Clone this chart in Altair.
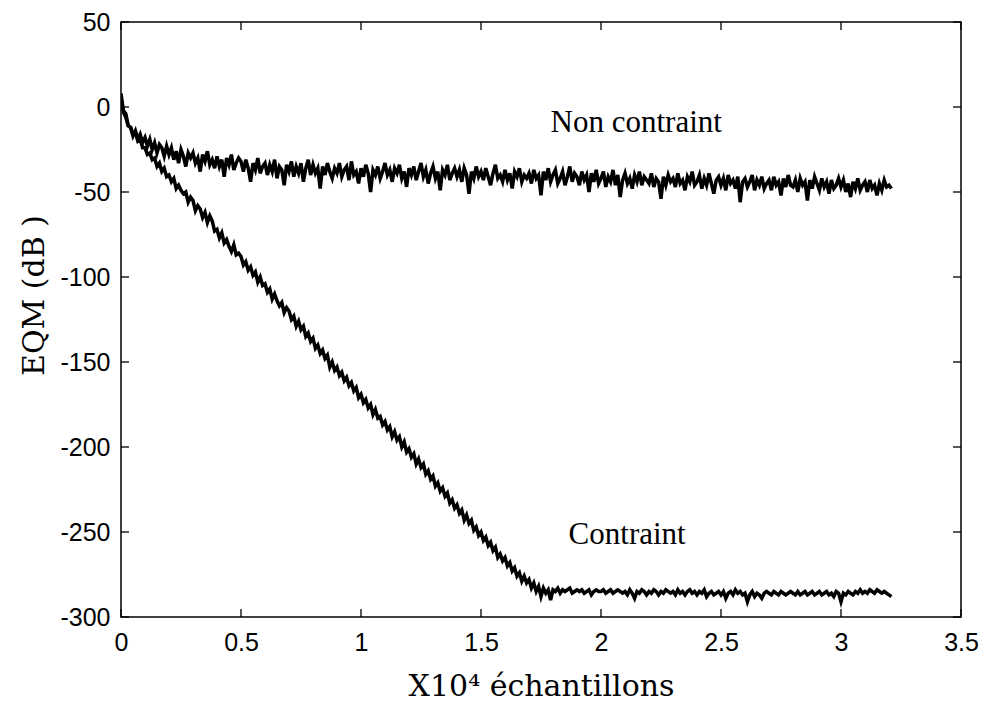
import altair as alt
import pandas as pd

# Horizontal axis: samples in units of 10^4, one reading every 0.01
X_STEP = 0.01
X_TICKS = [0, 0.5, 1, 1.5, 2, 2.5, 3, 3.5]
Y_TICKS = [-300, -250, -200, -150, -100, -50, 0, 50]

NON_CONTRAINT = [
    8, -2, -4, -11, -12, -17, -14, -19, -16, -21,
    -18, -23, -19, -25, -21, -27, -22, -24, -29, -23,
    -28, -24, -31, -26, -33, -25, -29, -35, -27, -30,
    -27, -33, -30, -38, -28, -32, -26, -34, -31, -36,
    -29, -35, -31, -41, -30, -34, -28, -37, -33, -30,
    -32, -38, -31, -36, -44, -33, -37, -30, -39, -35,
    -33, -40, -34, -38, -31, -42, -35, -37, -46, -34,
    -38, -32, -41, -35, -39, -33, -44, -36, -31, -40,
    -34, -39, -36, -48, -35, -40, -33, -38, -42, -36,
    -39, -33, -41, -37, -35, -43, -32, -40, -38, -45,
    -36, -41, -34, -39, -50, -37, -40, -35, -42, -38,
    -33, -40, -37, -44, -36, -39, -34, -42, -38, -47,
    -36, -40, -35, -43, -38, -33, -41, -37, -45, -39,
    -35, -42, -38, -49, -37, -40, -34, -43, -39, -36,
    -41, -37, -44, -36, -40, -51, -38, -42, -35, -41,
    -38, -43, -36, -41, -46, -39, -34, -42, -40, -44,
    -37, -43, -39, -48, -38, -41, -36, -44, -40, -42,
    -39, -45, -37, -42, -40, -52, -38, -43, -36, -44,
    -40, -37, -45, -42, -38, -46, -41, -35, -44, -39,
    -41, -46, -38, -43, -40, -50, -39, -44, -37, -45,
    -42, -38, -47, -41, -44, -37, -46, -40, -53, -43,
    -39, -45, -42, -48, -40, -44, -38, -46, -41, -43,
    -45, -39, -47, -42, -44, -54, -41, -46, -40, -44,
    -42, -47, -39, -45, -43, -49, -41, -44, -38, -46,
    -44, -40, -48, -42, -46, -39, -45, -51, -43, -41,
    -46, -42, -49, -40, -45, -43, -48, -41, -56, -44,
    -42, -47, -44, -40, -49, -43, -46, -41, -48, -45,
    -43, -49, -41, -46, -44, -52, -42, -47, -40, -46,
    -47, -43, -50, -42, -46, -44, -55, -43, -48, -41,
    -45, -49, -42, -47, -44, -51, -43, -48, -46, -42,
    -47, -43, -50, -45, -53, -44, -48, -42, -49, -46,
    -44, -50, -43, -48, -46, -52, -45, -49, -43, -47,
    -46, -48,
]

CONTRAINT = [
    5, -3, -6, -11, -12, -16, -15, -20, -19, -24,
    -24, -28, -27, -31, -30, -35, -33, -38, -36, -41,
    -40, -44, -42, -48, -46, -49, -51, -50, -56, -53,
    -55, -61, -58, -60, -65, -62, -68, -64, -67, -73,
    -72, -77, -74, -80, -78, -82, -85, -81, -87, -86,
    -88, -93, -91, -96, -94, -99, -97, -103, -100, -105,
    -104, -109, -107, -113, -110, -114, -117, -115, -121, -118,
    -120, -125, -123, -129, -126, -131, -129, -135, -133, -138,
    -136, -142, -140, -145, -143, -148, -146, -153, -150, -155,
    -153, -158, -156, -161, -159, -164, -162, -167, -165, -171,
    -169, -174, -172, -177, -175, -181, -178, -183, -182, -187,
    -185, -190, -188, -194, -191, -196, -194, -200, -197, -203,
    -201, -206, -204, -210, -207, -212, -210, -216, -214, -219,
    -217, -223, -221, -226, -224, -229, -227, -233, -231, -236,
    -234, -239, -237, -243, -240, -245, -243, -249, -247, -252,
    -250, -255, -253, -258, -256, -261, -259, -265, -263, -267,
    -265, -270, -268, -273, -271, -276, -274, -279, -276, -280,
    -278, -283, -280, -285, -282, -288, -283, -286, -284, -290,
    -284, -285, -283, -286, -284, -285, -284, -283, -286, -285,
    -284, -285, -284, -286, -285, -284, -287, -285, -284, -285,
    -285, -284, -286, -285, -284, -286, -285, -284, -285, -286,
    -285, -287, -284, -286, -289, -285, -286, -284, -285, -287,
    -285, -286, -284, -285, -287, -285, -286, -284, -285, -286,
    -285, -287, -284, -286, -285, -287, -285, -284, -286, -285,
    -287, -285, -286, -284, -288, -286, -285, -287, -286, -285,
    -287, -285, -289, -286, -285, -287, -284, -286, -285, -287,
    -286, -291, -287, -285, -288, -286, -287, -289, -286, -285,
    -286, -287, -285, -286, -287, -285, -286, -287, -286, -285,
    -286, -287, -285, -287, -286, -285, -287, -286, -285, -287,
    -286, -285, -287, -286, -285, -287, -286, -288, -285, -286,
    -291, -286, -287, -285, -286, -287, -285, -286, -284, -286,
    -285, -286, -284, -285, -286, -284, -285, -286, -285, -286,
    -287, -288,
]

LABELS = ["Non contraint", "Contraint"]
LABEL_X = [1.79, 1.865]
LABEL_Y = [-14.7, -257]

rows = []
for name, series in (("Non contraint", NON_CONTRAINT), ("Contraint", CONTRAINT)):
    for i, v in enumerate(series):
        rows.append({"x": round(i * X_STEP, 2), "y": v, "serie": name})
df = pd.DataFrame(rows)

x_scale = alt.Scale(domain=[0, 3.5], nice=False, zero=False)
y_scale = alt.Scale(domain=[-300, 50], nice=False, zero=False)

X_TITLE = "X10⁴ échantillons"
Y_TITLE = "EQM (dB )"

x_axis = alt.Axis(
    values=X_TICKS, labelExpr="'' + datum.value", grid=False, domain=False,
    tickSize=0, labelPadding=13, labelFont="Liberation Sans", labelFontSize=25,
    labelColor="black", labelFlush=False, labelOverlap=False,
    title=X_TITLE, titleFont="DejaVu Serif",
    titleFontSize=30, titleFontWeight="normal", titleColor="black",
    titleBaseline="alphabetic", titleY=78,
)
y_axis = alt.Axis(
    values=Y_TICKS, labelExpr="'' + datum.value", grid=False, domain=False,
    tickSize=0, labelPadding=11, labelFont="Liberation Sans", labelFontSize=25,
    labelColor="black", labelFlush=False, labelOverlap=False,
    title=Y_TITLE, titleFont="DejaVu Serif",
    titleFontSize=30, titleFontWeight="normal", titleColor="black",
    titleBaseline="alphabetic", titleX=-78, titleY=273, titleAngle=270,
)

lines = alt.Chart(df).mark_line(color="black", strokeWidth=3.5, clip=True).encode(
    x=alt.X("x:Q", scale=x_scale, axis=x_axis, title=X_TITLE),
    y=alt.Y("y:Q", scale=y_scale, axis=y_axis, title=Y_TITLE),
    detail="serie:N",
)

tick_color = "black"
xt = pd.DataFrame({"x": X_TICKS})
yt = pd.DataFrame({"y": Y_TICKS})
bottom_ticks = alt.Chart(xt).mark_rule(color=tick_color, strokeWidth=1.3).encode(
    x=alt.X("x:Q", scale=x_scale, title=X_TITLE), y=alt.datum(-300), y2=alt.datum(-295.3))
top_ticks = alt.Chart(xt).mark_rule(color=tick_color, strokeWidth=1.3).encode(
    x=alt.X("x:Q", scale=x_scale, title=X_TITLE), y=alt.datum(50), y2=alt.datum(45.3))
left_ticks = alt.Chart(yt).mark_rule(color=tick_color, strokeWidth=1.3).encode(
    y=alt.Y("y:Q", scale=y_scale, title=Y_TITLE), x=alt.datum(0), x2=alt.datum(0.0333))
right_ticks = alt.Chart(yt).mark_rule(color=tick_color, strokeWidth=1.3).encode(
    y=alt.Y("y:Q", scale=y_scale, title=Y_TITLE), x=alt.datum(3.5), x2=alt.datum(3.4667))

labels = alt.Chart(pd.DataFrame({"x": LABEL_X, "y": LABEL_Y, "label": LABELS})).mark_text(
    align="left", baseline="alphabetic", font="Liberation Serif", fontSize=31, color="black"
).encode(
    x=alt.X("x:Q", scale=x_scale, title=X_TITLE),
    y=alt.Y("y:Q", scale=y_scale, title=Y_TITLE),
    text="label:N",
)

chart = alt.layer(lines, bottom_ticks, top_ticks, left_ticks, right_ticks, labels).properties(
    width=840, height=595,
    autosize=alt.AutoSizeParams(type="none"),
    padding={"left": 121, "top": 22, "right": 29, "bottom": 96},
    background="white",
).configure_view(stroke="black", strokeWidth=1.5)

chart.save("out.html", embed_options={"renderer": "svg", "actions": False})
